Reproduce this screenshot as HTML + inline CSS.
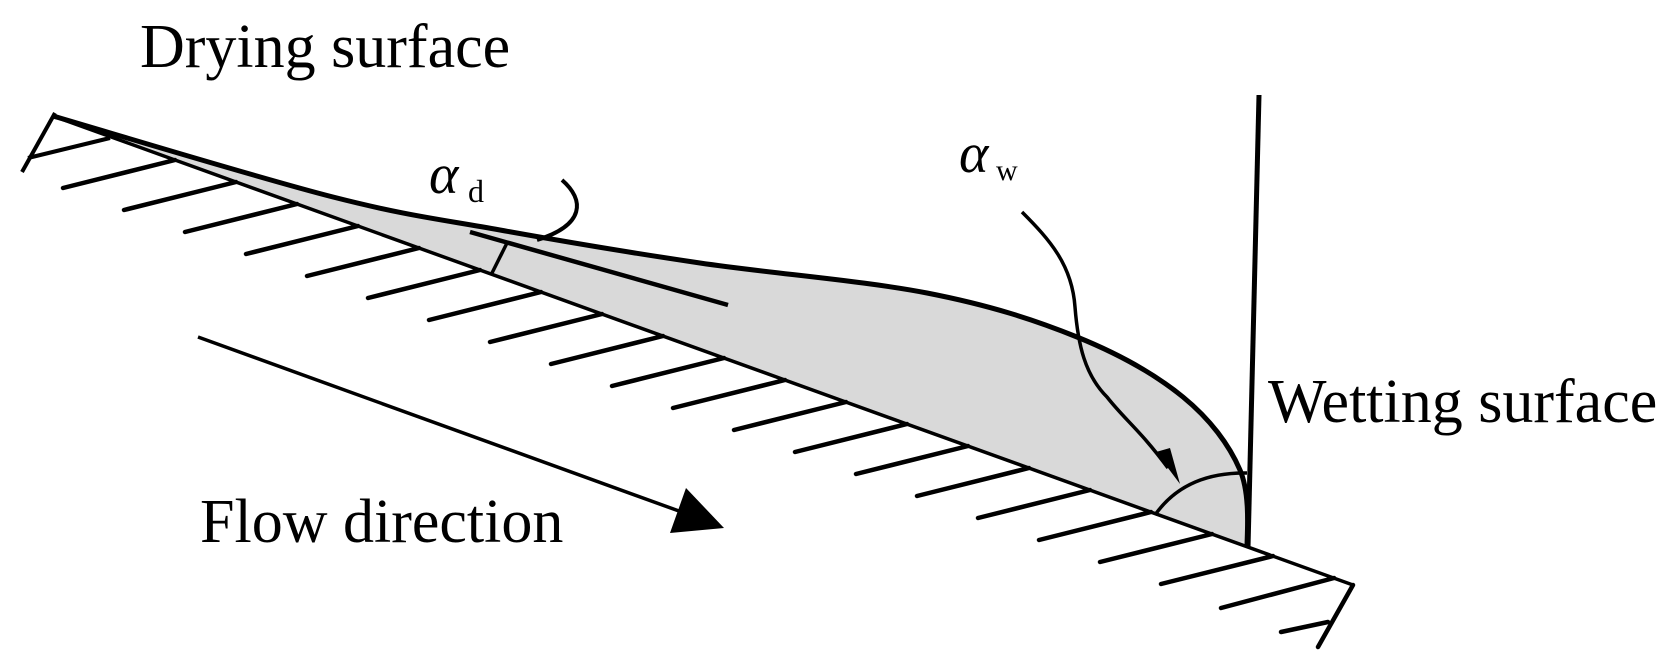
<!DOCTYPE html>
<html><head><meta charset="utf-8"><style>
html,body{margin:0;padding:0;background:#fff;}
svg{display:block;}
text{font-family:"Liberation Serif",serif;fill:#000;}
</style></head><body>
<svg width="1674" height="670" viewBox="0 0 1674 670" xmlns="http://www.w3.org/2000/svg">
<!-- liquid -->
<path d="M53,116 C99.7,129.5 258.5,178 333,197 C407.5,216 438.8,219 500,230 C561.2,241 628.8,252.5 700,263 C771.2,273.5 864.2,280.7 927,293 C989.8,305.3 1034.3,319.7 1077,337 C1119.7,354.3 1155.8,374.8 1183,397 C1210.2,419.2 1229.3,445 1240,470 C1250.7,495 1247,534.2 1247,547 L53,116 Z" fill="#d9d9d9"/>
<path d="M53,116 C99.7,129.5 258.5,178 333,197 C407.5,216 438.8,219 500,230 C561.2,241 628.8,252.5 700,263 C771.2,273.5 864.2,280.7 927,293 C989.8,305.3 1034.3,319.7 1077,337 C1119.7,354.3 1155.8,374.8 1183,397 C1210.2,419.2 1229.3,445 1240,470 C1250.7,495 1247,534.2 1247,547" fill="none" stroke="#000" stroke-width="5"/>
<!-- wall -->
<line x1="53" y1="116" x2="1353" y2="585" stroke="#000" stroke-width="3.5"/>
<!-- top-left triangle -->
<polyline points="55,113 22,172" fill="none" stroke="#000" stroke-width="4"/>
<line x1="28" y1="158" x2="110" y2="138" stroke="#000" stroke-width="4"/>
<!-- hatches -->
<g stroke="#000" stroke-width="4.5" stroke-linecap="round">
<line x1="175" y1="160" x2="63" y2="188"/>
<line x1="236" y1="182" x2="124" y2="210"/>
<line x1="297" y1="204" x2="185" y2="232"/>
<line x1="358" y1="226" x2="246" y2="254"/>
<line x1="419" y1="248" x2="307" y2="276"/>
<line x1="480" y1="270" x2="368" y2="298"/>
<line x1="541" y1="292" x2="429" y2="320"/>
<line x1="602" y1="314" x2="490" y2="342"/>
<line x1="663" y1="336" x2="551" y2="364"/>
<line x1="724" y1="358" x2="612" y2="386"/>
<line x1="785" y1="380" x2="673" y2="408"/>
<line x1="846" y1="402" x2="734" y2="430"/>
<line x1="907" y1="424" x2="795" y2="452"/>
<line x1="968" y1="446" x2="856" y2="474"/>
<line x1="1029" y1="468" x2="917" y2="496"/>
<line x1="1090" y1="490" x2="978" y2="518"/>
<line x1="1151" y1="512" x2="1039" y2="540"/>
<line x1="1212" y1="534" x2="1100" y2="562"/>
<line x1="1273" y1="556" x2="1161" y2="584"/>
<line x1="1334" y1="578" x2="1221" y2="608"/>
<line x1="1328" y1="622" x2="1281" y2="632"/>
</g>
<line x1="1353" y1="585" x2="1318" y2="647" stroke="#000" stroke-width="4.5" stroke-linecap="round"/>
<!-- wetting surface vertical -->
<line x1="1259" y1="95" x2="1248" y2="548" stroke="#000" stroke-width="5"/>
<!-- tangent line for alpha_d -->
<line x1="470" y1="232" x2="728" y2="305" stroke="#000" stroke-width="4.5"/>
<line x1="507" y1="243" x2="492" y2="273" stroke="#000" stroke-width="3.5"/>
<!-- alpha_d curved pointer -->
<path d="M562,180 C585,200 585,225 537,240" fill="none" stroke="#000" stroke-width="4"/>
<!-- alpha_w pointer -->
<path d="M1022,212 C1050,240 1072,265 1075,307 C1078,345 1085,375 1107,397 C1125,420 1140,430 1168,468" fill="none" stroke="#000" stroke-width="3.5"/>
<polygon points="1156,452 1170,448 1180,484" fill="#000"/>
<!-- angle arc -->
<path d="M1155,515 Q1185,472 1247,473" fill="none" stroke="#000" stroke-width="3.5"/>
<!-- flow arrow -->
<line x1="198" y1="337" x2="690" y2="515" stroke="#000" stroke-width="3.5"/>
<polygon points="686,488 670,533 724,528" fill="#000"/>
<!-- labels -->
<text x="140" y="67" font-size="62">Drying surface</text>
<text x="1268" y="422" font-size="62">Wetting surface</text>
<text x="200" y="542" font-size="62">Flow direction</text>
<text x="429" y="193" font-size="56" font-style="italic">α</text>
<text x="468" y="202" font-size="32">d</text>
<text x="959" y="172" font-size="56" font-style="italic">α</text>
<text x="996" y="180" font-size="30">w</text>
</svg>
</body></html>
